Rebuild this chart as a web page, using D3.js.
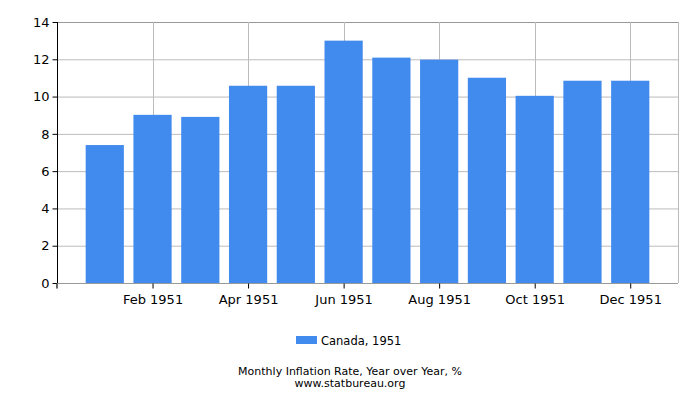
<!DOCTYPE html>
<html lang="en">
<head>
<meta charset="UTF-8">
<title>Monthly Inflation Rate - Canada 1951</title>
<script src="https://d3js.org/d3.v7.min.js"></script>
<style>
  body { margin: 0; background: #fff; font-family: "DejaVu Sans", Verdana, sans-serif; }
  svg { display: block; }
</style>
</head>
<body>
<svg id="chart" width="700" height="400"></svg>
<script>
const months = ["Jan 1951", "Feb 1951", "Mar 1951", "Apr 1951", "May 1951", "Jun 1951",
                "Jul 1951", "Aug 1951", "Sep 1951", "Oct 1951", "Nov 1951", "Dec 1951"];
const values = [7.40, 9.02, 8.91, 10.58, 10.58, 13.00, 12.09, 11.98, 11.01, 10.04, 10.85, 10.85];
const yTicks = [0, 2, 4, 6, 8, 10, 12, 14];
const seriesName = "Canada, 1951";

const svg = d3.select("#chart");
const plotL = 57, plotR = 678, plotT = 22, plotB = 283;
const blue = "#418bef";

// months sit at positions 1..12 on a 0..13 scale
const x = d3.scaleLinear().domain([0, 13]).range([plotL, plotR]);
const y = d3.scaleLinear().domain([0, 14]).range([plotB, plotT]);
const step = x(1) - x(0);
const barW = step * 0.8;

const labeled = months.map((m, i) => i).filter(i => i % 2 === 1);

// grid
svg.append("g").selectAll("line").data(yTicks).join("line")
  .attr("x1", plotL).attr("x2", plotR)
  .attr("y1", d => y(d) + 0.5).attr("y2", d => y(d) + 0.5)
  .attr("stroke", d => d === 14 ? "#999" : "#bbb");
svg.append("g").selectAll("line").data(labeled).join("line")
  .attr("x1", i => Math.round(x(i + 1)) + 0.5).attr("x2", i => Math.round(x(i + 1)) + 0.5)
  .attr("y1", plotT).attr("y2", plotB)
  .attr("stroke", "#bbb");
svg.append("line")
  .attr("x1", plotR + 0.5).attr("x2", plotR + 0.5)
  .attr("y1", plotT).attr("y2", plotB)
  .attr("stroke", "#bbb");

// bars
svg.append("g").selectAll("rect").data(values).join("rect")
  .attr("x", (d, i) => x(i + 1) - barW / 2)
  .attr("width", barW)
  .attr("y", d => y(d))
  .attr("height", d => y(0) - y(d))
  .attr("fill", blue);

// y axis
const yAxis = svg.append("g")
  .attr("transform", `translate(${plotL + 0.5},0)`)
  .call(d3.axisLeft(y).tickValues(yTicks).tickSize(5).tickPadding(3));
yAxis.selectAll("text").attr("font-size", 13).attr("fill", "#000")
  .attr("font-family", "DejaVu Sans, sans-serif");
yAxis.selectAll("path, line").attr("stroke", "#000");
yAxis.select(".domain").attr("d", `M0,${plotT}V${plotB}`);

// x axis
const xAxis = svg.append("g")
  .attr("transform", `translate(0,${plotB + 0.5})`)
  .call(d3.axisBottom(x).tickValues(labeled.map(i => i + 1))
    .tickFormat(v => months[v - 1]).tickSize(5).tickPadding(6));
xAxis.selectAll("text").attr("font-size", 13).attr("fill", "#000")
  .attr("font-family", "DejaVu Sans, sans-serif");
xAxis.selectAll("path, line").attr("stroke", "#000");
xAxis.select(".domain").attr("d", `M${plotL},5V0H${plotR}`).attr("stroke", "#999");
xAxis.select(".domain").clone().attr("d", `M${plotL},5V0`).attr("stroke", "#000");

// legend
const legend = svg.append("g");
legend.append("rect").attr("x", 296).attr("y", 336).attr("width", 21).attr("height", 8).attr("fill", blue);
legend.append("text").attr("x", 321).attr("y", 345)
  .attr("font-size", 11.5).attr("fill", "#000").text(seriesName);

// captions
svg.append("text").attr("x", 350).attr("y", 375).attr("text-anchor", "middle")
  .attr("font-size", 11).attr("fill", "#000").text("Monthly Inflation Rate, Year over Year, %");
svg.append("text").attr("x", 350).attr("y", 387).attr("text-anchor", "middle")
  .attr("font-size", 11).attr("fill", "#000").text("www.statbureau.org");
</script>
</body>
</html>
